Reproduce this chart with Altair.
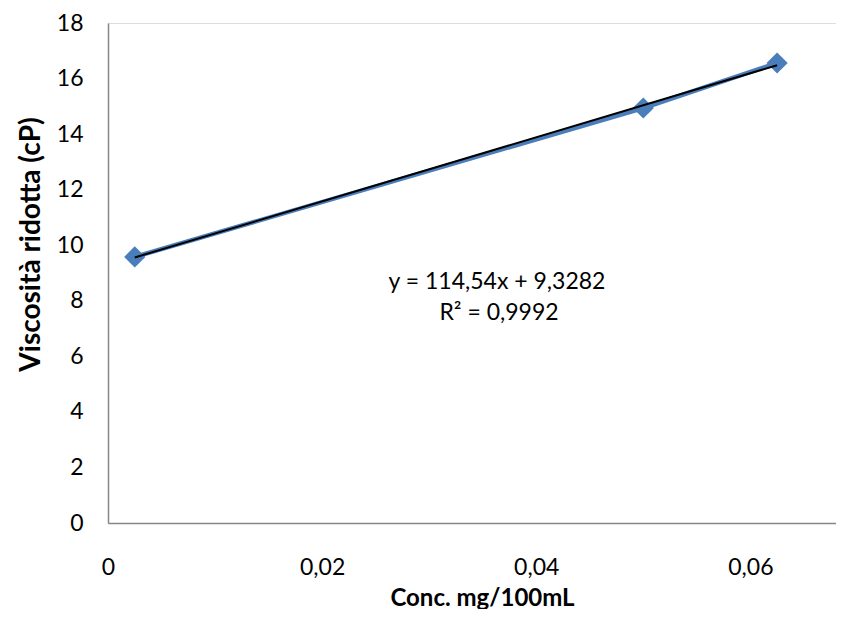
import altair as alt
import pandas as pd

conc = [0.0025, 0.05, 0.0625]
visc = [9.58, 14.94, 16.56]
x_ticks = [0, 0.02, 0.04, 0.06]
y_ticks = [0, 2, 4, 6, 8, 10, 12, 14, 16, 18]
eq_line1 = "y = 114,54x + 9,3282"
eq_line2 = "R² = 0,9992"

df = pd.DataFrame({"x": conc, "y": visc})

FONT = "Lato"
BLUE = "#4A7EBB"
GREY = "#868686"

xs = alt.Scale(domain=[0, 0.0680], nice=False, zero=True)
ys = alt.Scale(domain=[0, 18], nice=False)

x_axis = alt.Axis(
    values=x_ticks,
    labelExpr="datum.value == 0 ? '0' : replace(format(datum.value, '.2f'), '.', ',')",
    labelFlush=False,
    grid=False, ticks=False, domainColor=GREY, domainWidth=1.5,
    labelFont=FONT, labelFontSize=23, labelColor="#000000", labelPadding=33,
    title="Conc. mg/100mL", titleFont=FONT, titleFontSize=24, titleFontWeight="bold",
    titleColor="#000000", titlePadding=7, titleX=374,
)
y_axis = alt.Axis(
    values=y_ticks, grid=False, ticks=False, domainColor=GREY, domainWidth=1.5,
    labelFont=FONT, labelFontSize=23, labelColor="#000000", labelPadding=25,
    labelFlush=False,
    title="Viscosità ridotta (cP)", titleFont=FONT, titleFontSize=28, titleFontWeight="bold",
    titleColor="#000000", titlePadding=11, titleY=221,
)

base = alt.Chart(df)

line = base.mark_line(color=BLUE, strokeWidth=4.5).encode(
    x=alt.X("x:Q", scale=xs, axis=x_axis),
    y=alt.Y("y:Q", scale=ys, axis=y_axis),
)
pts = base.mark_point(shape="diamond", filled=True, size=450, color=BLUE, opacity=1).encode(
    x=alt.X("x:Q", scale=xs), y=alt.Y("y:Q", scale=ys)
)
trend = base.transform_regression("x", "y").mark_line(color="#000000", strokeWidth=2).encode(
    x=alt.X("x:Q", scale=xs), y=alt.Y("y:Q", scale=ys)
)

txt1 = alt.Chart(pd.DataFrame({"t": [eq_line1]})).mark_text(
    font=FONT, fontSize=23, color="#000000", align="center", baseline="middle"
).encode(text="t:N", x=alt.value(389), y=alt.value(259))
txt2 = alt.Chart(pd.DataFrame({"t": [eq_line2]})).mark_text(
    font=FONT, fontSize=23, color="#000000", align="center", baseline="middle"
).encode(text="t:N", x=alt.value(391), y=alt.value(290))

chart = alt.layer(line, pts, trend, txt1, txt2).properties(
    width=728, height=500,
    autosize=alt.AutoSizeParams(type="none"),
    padding={"left": 100, "top": 15, "right": 0, "bottom": 86},
).configure_view(stroke=None).configure(background="white")

chart.save("out.html", embed_options={"renderer": "svg", "actions": False})
